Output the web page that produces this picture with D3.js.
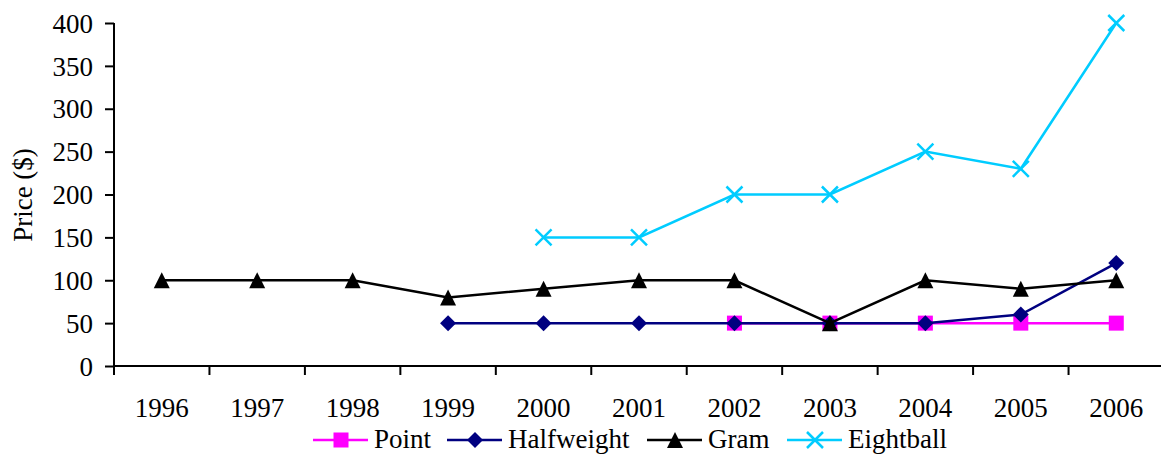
<!DOCTYPE html>
<html><head><meta charset="utf-8">
<script src="https://cdn.jsdelivr.net/npm/d3@7/dist/d3.min.js"></script>
</head><body style="margin:0;background:#fff"><svg id="c" width="1161" height="457" style="display:block"></svg>
<script>
const years = ["1996","1997","1998","1999","2000","2001","2002","2003","2004","2005","2006"];
const yTicks = [0,50,100,150,200,250,300,350,400];
const pointVals = [null,null,null,null,null,null,50,50,50,50,50];
const halfweightVals = [null,null,null,50,50,50,50,50,50,60,120];
const gramVals = [100,100,100,80,90,100,100,50,100,90,100];
const eightballVals = [null,null,null,null,150,150,200,200,250,230,400];
const seriesNames = ["Point","Halfweight","Gram","Eightball"];
const seriesColors = ["#FF00FF","#000080","#000000","#00CCFF"];
const seriesShapes = ["square","diamond","triangle","x"];
const seriesValues = [pointVals,halfweightVals,gramVals,eightballVals];

const FONT = "'Liberation Serif'";
const svg = d3.select("#c");
const L = 114, R = 1164, T = 23, B = 366;
const x = d3.scaleBand().domain(years).range([L,R]);
const y = d3.scaleLinear().domain([0,400]).range([B,T]);

const ya = svg.append("g").attr("transform",`translate(${L},0)`)
  .call(d3.axisLeft(y).tickValues(yTicks).tickSize(9).tickPadding(12));
ya.attr("font-family",null).attr("font-size",null);
ya.select(".domain").attr("stroke-width",2).attr("d",`M0,${B}V${T}`);
ya.selectAll(".tick line").attr("stroke-width",2);
ya.selectAll("text").attr("dy","0.34em").style("font-family",FONT).style("font-size","27px").attr("fill","#000");

const xa = svg.append("g").attr("transform",`translate(0,${B})`)
  .call(d3.axisBottom(x).tickSize(0));
xa.attr("font-family",null).attr("font-size",null);
xa.select(".domain").attr("stroke-width",2).attr("d",`M${L},0H${R}`);
xa.selectAll("text").attr("y",51).attr("dy",0).style("font-family",FONT).style("font-size","27px").attr("fill","#000");
const bounds = years.map(d=>x(d)).concat([R]);
xa.selectAll(".bt").data(bounds).join("line").attr("class","bt")
  .attr("x1",d=>d).attr("x2",d=>d).attr("y1",0).attr("y2",9).attr("stroke","#000").attr("stroke-width",2);

svg.append("text").attr("transform",`translate(32,195) rotate(-90)`)
  .attr("text-anchor","middle").style("font-family",FONT).style("font-size","27px").attr("fill","#000").text("Price ($)");

function marker(g, shape, color, cx, cy){
  if(shape==="square") g.append("rect").attr("x",cx-7.5).attr("y",cy-7.5).attr("width",15).attr("height",15).attr("fill",color);
  else if(shape==="diamond") g.append("path").attr("d",`M${cx},${cy-8}L${cx+8},${cy}L${cx},${cy+8}L${cx-8},${cy}Z`).attr("fill",color);
  else if(shape==="triangle") g.append("path").attr("d",`M${cx},${cy-8}L${cx+8},${cy+8}L${cx-8},${cy+8}Z`).attr("fill",color);
  else g.append("path").attr("d",`M${cx-8},${cy-8}L${cx+8},${cy+8}M${cx-8},${cy+8}L${cx+8},${cy-8}`).attr("stroke",color).attr("stroke-width",2.5).attr("fill","none");
}

const line = d3.line().defined(d=>d.v!=null).x(d=>x(d.k)+x.bandwidth()/2).y(d=>y(d.v));
seriesValues.forEach((vals,i)=>{
  const data = years.map((k,j)=>({k,v:vals[j]}));
  const g = svg.append("g");
  g.append("path").datum(data).attr("d",line).attr("fill","none").attr("stroke",seriesColors[i]).attr("stroke-width",2.5);
  data.filter(d=>d.v!=null).forEach(d=>marker(g,seriesShapes[i],seriesColors[i],x(d.k)+x.bandwidth()/2,y(d.v)));
});

const legX = [313,447,647,787];
const legY = 440;
seriesNames.forEach((n,i)=>{
  const g = svg.append("g");
  const x0 = legX[i];
  g.append("line").attr("x1",x0).attr("x2",x0+55).attr("y1",legY).attr("y2",legY).attr("stroke",seriesColors[i]).attr("stroke-width",2.5);
  marker(g,seriesShapes[i],seriesColors[i],x0+28,legY);
  g.append("text").attr("x",x0+61).attr("y",legY+8).style("font-family",FONT).style("font-size","27px").attr("fill","#000").text(n);
});
</script></body></html>
